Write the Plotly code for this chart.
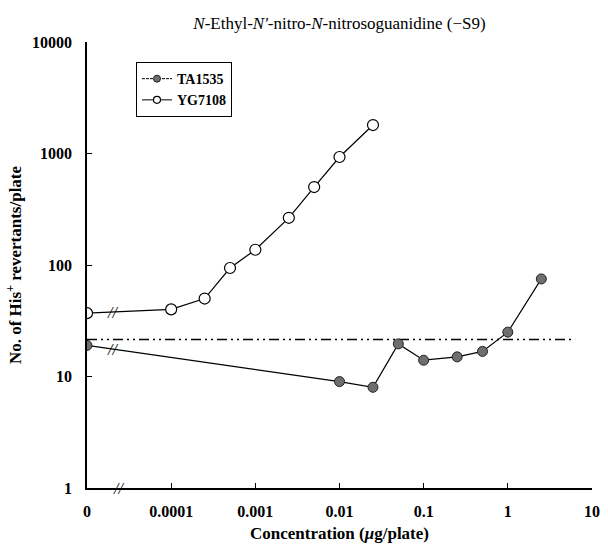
import numpy as np
import plotly.graph_objects as go

# ---- data ----
conc_yg = [0, 0.0001, 0.00025, 0.0005, 0.001, 0.0025, 0.005, 0.01, 0.025]
rev_yg = [37, 40, 50, 94, 137, 265, 500, 930, 1800]

conc_ta = [0, 0.01, 0.025, 0.05, 0.1, 0.25, 0.5, 1, 2.5]
rev_ta = [19, 9, 8, 19.6, 14, 15, 16.8, 25, 75]

ref_conc = [0, 6.3]      # extent of the dash-dot reference line
ref_value = 21.5         # level of the dash-dot reference line

x_tick_conc = [0, 0.0001, 0.001, 0.01, 0.1, 1, 10]
x_tick_labels = ["0", "0.0001", "0.001", "0.01", "0.1", "1", "10"]
y_tick_vals = [1, 10, 100, 1000, 10000]
y_tick_labels = ["1", "10", "100", "1000", "10000"]

# ---- broken log axis: zero is drawn one decade left of 0.0001 ----
ZERO_POS = 1e-5


def xpos(values):
    return [ZERO_POS if v == 0 else v for v in values]


FONT = "Liberation Serif"
TA_STYLE = dict(color="#6e6e6e", line=dict(color="#222222", width=1))
YG_STYLE = dict(color="white", line=dict(color="black", width=1.2))

fig = go.Figure()

fig.add_trace(go.Scatter(
    x=xpos(ref_conc), y=[ref_value] * len(ref_conc), mode="lines",
    line=dict(color="black", width=1.5, dash="10px,4px,2px,4px,2px,4px"),
    showlegend=False, hoverinfo="skip"))

fig.add_trace(go.Scatter(
    x=xpos(conc_ta), y=rev_ta, mode="lines+markers", name="TA1535",
    legendgroup="ta", showlegend=False,
    line=dict(color="black", width=1.2),
    marker=dict(symbol="circle", size=10, **TA_STYLE)))

fig.add_trace(go.Scatter(
    x=xpos(conc_yg), y=rev_yg, mode="lines+markers", name="YG7108",
    legendgroup="yg", showlegend=False,
    line=dict(color="black", width=1.2),
    marker=dict(symbol="circle", size=11, **YG_STYLE)))

# legend entries with the small markers used in the reference key
fig.add_trace(go.Scatter(
    x=[None], y=[None], mode="lines+markers", name="<b>TA1535</b>", legendgroup="ta",
    line=dict(color="black", width=1, dash="3px,1px"),
    marker=dict(symbol="circle", size=7, **TA_STYLE)))
fig.add_trace(go.Scatter(
    x=[None], y=[None], mode="lines+markers", name="<b>YG7108</b>", legendgroup="yg",
    line=dict(color="black", width=1),
    marker=dict(symbol="circle", size=7, **YG_STYLE)))

# break marks "//" on the first segment of each line and on the x axis
BREAK_LOG = -4.7
frac = (BREAK_LOG - np.log10(ZERO_POS)) / (np.log10(xpos(conc_yg)[1]) - np.log10(ZERO_POS))
y_break_yg = 10 ** (np.log10(rev_yg[0]) + frac * (np.log10(rev_yg[1]) - np.log10(rev_yg[0])))
frac_ta = (BREAK_LOG - np.log10(ZERO_POS)) / (np.log10(xpos(conc_ta)[1]) - np.log10(ZERO_POS))
y_break_ta = 10 ** (np.log10(rev_ta[0]) + frac_ta * (np.log10(rev_ta[1]) - np.log10(rev_ta[0])))

for bx, by in [(BREAK_LOG, np.log10(y_break_yg)), (BREAK_LOG, np.log10(y_break_ta)),
               (-4.62, 0)]:
    fig.add_annotation(x=bx, y=by, xref="x", yref="y", text="<i>//</i>", showarrow=False,
                       font=dict(family=FONT, size=16, color="black"))

axis_font = dict(family=FONT, size=16, color="black")

fig.update_layout(
    width=608, height=548,
    margin=dict(l=87, r=8, t=42, b=59),
    paper_bgcolor="white", plot_bgcolor="white",
    title=dict(text="<i>N</i>-Ethyl-<i>N'</i>-nitro-<i>N</i>-nitrosoguanidine (\u2212S9)",
               x=0.5, xref="paper", y=0.968, yref="container", xanchor="center",
               font=dict(family=FONT, size=17, color="black")),
    showlegend=True,
    legend=dict(x=0.097, y=0.955, xanchor="left", yanchor="top",
                bordercolor="black", borderwidth=1, bgcolor="white",
                font=dict(family=FONT, size=14, color="black"),
                itemwidth=30, tracegroupgap=0),
    xaxis=dict(type="log", range=[-5, 1], tickvals=xpos(x_tick_conc),
               ticktext=[f"<b>{t}</b>" for t in x_tick_labels],
               ticks="inside", ticklen=5, tickcolor="black", tickwidth=1,
               showline=True, linecolor="black", linewidth=1.5,
               showgrid=False, zeroline=False, tickfont=axis_font,
               ticklabelstandoff=8,
               title=dict(text="<b>Concentration (<i>\u03bc</i>g/plate)</b>",
                          font=dict(family=FONT, size=17, color="black"), standoff=8)),
    yaxis=dict(type="log", range=[0, 4], tickvals=y_tick_vals,
               ticktext=[f"<b>{t}</b>" for t in y_tick_labels],
               ticks="inside", ticklen=5, tickcolor="black", tickwidth=1,
               showline=True, linecolor="black", linewidth=1.5,
               showgrid=False, zeroline=False, tickfont=axis_font,
               ticklabelstandoff=10,
               title=dict(text="<b>No. of His<sup>+</sup> revertants/plate</b>",
                          font=dict(family=FONT, size=17, color="black"), standoff=6)),
)

fig.write_html("out.html")
